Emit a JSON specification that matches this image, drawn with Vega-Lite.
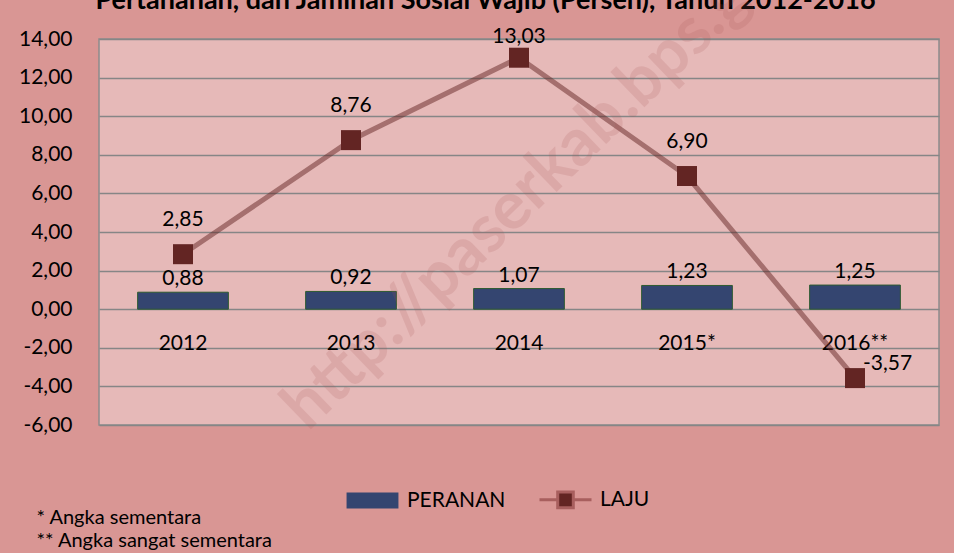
{
  "$schema": "https://vega.github.io/schema/vega-lite/v6.json",
  "width": 840,
  "height": 386,
  "autosize": {"type": "none"},
  "padding": {"left": 99, "top": 39, "right": 15, "bottom": 128},
  "background": "#D99694",
  "config": {
    "locale": {"number": {"decimal": ",", "thousands": ".", "grouping": [3], "currency": ["Rp", ""], "minus": "-"}},
    "view": {"fill": "#E6B9B8", "stroke": "#8C8C8C", "strokeWidth": 1.5},
    "font": "Lato",
    "axisY": {
      "grid": true,
      "gridColor": "#868686",
      "gridWidth": 1.5,
      "domain": false,
      "ticks": false,
      "tickSize": 0,
      "labelOverlap": false,
      "labelFontSize": 21,
      "labelColor": "#000000",
      "labelPadding": 27,
      "titleFontSize": 27,
      "titleFontWeight": "bold",
      "titleColor": "#000000",
      "titleAngle": 0,
      "titleX": 386,
      "titleY": -31,
      "titleAlign": "center",
      "titleBaseline": "alphabetic"
    }
  },
  "data": {
    "values": [
      {"tahun": "2012", "peranan": 0.88, "laju": 2.85},
      {"tahun": "2013", "peranan": 0.92, "laju": 8.76},
      {"tahun": "2014", "peranan": 1.07, "laju": 13.03},
      {"tahun": "2015*", "peranan": 1.23, "laju": 6.90},
      {"tahun": "2016**", "peranan": 1.25, "laju": -3.57}
    ]
  },
  "encoding": {
    "x": {
      "field": "tahun",
      "type": "nominal",
      "sort": null,
      "scale": {"paddingInner": 0.46, "paddingOuter": 0.23},
      "axis": {
        "orient": "bottom",
        "offset": -116,
        "domain": false,
        "ticks": false,
        "tickSize": 0,
        "labelAngle": 0,
        "labelFontSize": 21,
        "labelColor": "#000000",
        "labelPadding": 23,
        "title": ["* Angka sementara", "** Angka sangat sementara"],
        "titleX": -63,
        "titleY": 198,
        "titleAlign": "left",
        "titleAnchor": "start",
        "titleBaseline": "top",
        "titleFontSize": 20,
        "titleFontWeight": "normal",
        "titleLineHeight": 23,
        "titleColor": "#000000"
      }
    }
  },
  "layer": [
    {
      "mark": {"type": "bar", "color": "#344570", "stroke": "#2E5B30", "strokeWidth": 1},
      "encoding": {
        "y": {
          "field": "peranan",
          "type": "quantitative",
          "scale": {"domain": [-6, 14], "nice": false, "zero": false},
          "axis": {"values": [-6, -4, -2, 0, 2, 4, 6, 8, 10, 12, 14], "format": ".2f", "title": "Pertahanan, dan Jaminan Sosial Wajib (Persen), Tahun 2012-2016"}
        }
      }
    },
    {
      "mark": {"type": "text", "fontSize": 21, "color": "#000000", "baseline": "alphabetic", "dy": -7},
      "encoding": {
        "y": {"field": "peranan", "type": "quantitative", "axis": {"values": [-6, -4, -2, 0, 2, 4, 6, 8, 10, 12, 14], "format": ".2f", "title": "Pertahanan, dan Jaminan Sosial Wajib (Persen), Tahun 2012-2016"}},
        "text": {"field": "peranan", "type": "quantitative", "format": ".2f"}
      }
    },
    {
      "mark": {"type": "line", "color": "#632523", "opacity": 0.5, "strokeWidth": 5},
      "encoding": {"y": {"field": "laju", "type": "quantitative", "axis": {"values": [-6, -4, -2, 0, 2, 4, 6, 8, 10, 12, 14], "format": ".2f", "title": "Pertahanan, dan Jaminan Sosial Wajib (Persen), Tahun 2012-2016"}}}
    },
    {
      "mark": {"type": "point", "shape": "square", "size": 400, "filled": true, "color": "#632523", "opacity": 1},
      "encoding": {"y": {"field": "laju", "type": "quantitative", "axis": {"values": [-6, -4, -2, 0, 2, 4, 6, 8, 10, 12, 14], "format": ".2f", "title": "Pertahanan, dan Jaminan Sosial Wajib (Persen), Tahun 2012-2016"}}}
    },
    {
      "transform": [{"filter": "indexof(['2012','2013','2015*'], datum.tahun) >= 0"}],
      "mark": {"type": "text", "fontSize": 21, "color": "#000000", "baseline": "alphabetic", "dy": -28},
      "encoding": {
        "y": {"field": "laju", "type": "quantitative", "axis": {"values": [-6, -4, -2, 0, 2, 4, 6, 8, 10, 12, 14], "format": ".2f", "title": "Pertahanan, dan Jaminan Sosial Wajib (Persen), Tahun 2012-2016"}},
        "text": {"field": "laju", "type": "quantitative", "format": ".2f"}
      }
    },
    {
      "transform": [{"filter": "datum.tahun === '2014'"}],
      "mark": {"type": "text", "fontSize": 21, "color": "#000000", "baseline": "alphabetic", "dy": -15},
      "encoding": {
        "y": {"field": "laju", "type": "quantitative", "axis": {"values": [-6, -4, -2, 0, 2, 4, 6, 8, 10, 12, 14], "format": ".2f", "title": "Pertahanan, dan Jaminan Sosial Wajib (Persen), Tahun 2012-2016"}},
        "text": {"field": "laju", "type": "quantitative", "format": ".2f"}
      }
    },
    {
      "transform": [{"filter": "datum.tahun === '2016**'"}],
      "mark": {"type": "text", "fontSize": 21, "color": "#000000", "baseline": "alphabetic", "align": "left", "dx": 8, "dy": -8},
      "encoding": {
        "y": {"field": "laju", "type": "quantitative", "axis": {"values": [-6, -4, -2, 0, 2, 4, 6, 8, 10, 12, 14], "format": ".2f", "title": "Pertahanan, dan Jaminan Sosial Wajib (Persen), Tahun 2012-2016"}},
        "text": {"field": "laju", "type": "quantitative", "format": ".2f"}
      }
    },
    {
      "data": {"values": [{"seri": "PERANAN"}, {"seri": "LAJU"}]},
      "mark": {"type": "point", "filled": true, "opacity": 0, "size": 2704},
      "encoding": {
        "x": {"datum": "2014"},
        "y": {"datum": 0, "axis": {"values": [-6, -4, -2, 0, 2, 4, 6, 8, 10, 12, 14], "format": ".2f", "title": "Pertahanan, dan Jaminan Sosial Wajib (Persen), Tahun 2012-2016"}},
        "color": {
          "field": "seri",
          "type": "nominal",
          "scale": {"domain": ["PERANAN", "LAJU"], "range": ["#344570", "#632523"]},
          "legend": {
            "title": null, "orient": "none", "legendX": 246, "legendY": 433, "direction": "horizontal", "padding": 0,
            "symbolSize": 2704, "symbolOpacity": 1, "symbolStrokeWidth": 3, "labelFontSize": 21, "labelColor": "#000000", "labelOffset": 7, "columnPadding": 27
          }
        },
        "shape": {
          "field": "seri",
          "type": "nominal",
          "scale": {"domain": ["PERANAN", "LAJU"], "range": ["M-0.94,-0.25H0.94V0.25H-0.94Z", "M-1,0H-0.33M0.33,0H1M-0.3,-0.3H0.3V0.3H-0.3Z"]},
          "legend": {
            "title": null, "orient": "none", "legendX": 246, "legendY": 433, "direction": "horizontal", "padding": 0,
            "symbolSize": 2704, "symbolOpacity": 1, "symbolStrokeWidth": 3, "labelFontSize": 21, "labelColor": "#000000", "labelOffset": 7, "columnPadding": 27
          }
        },
        "stroke": {
          "field": "seri",
          "type": "nominal",
          "scale": {"domain": ["PERANAN", "LAJU"], "range": ["#344570", "#A85F5E"]},
          "legend": {
            "title": null, "orient": "none", "legendX": 246, "legendY": 433, "direction": "horizontal", "padding": 0,
            "symbolSize": 2704, "symbolOpacity": 1, "symbolStrokeWidth": 3, "labelFontSize": 21, "labelColor": "#000000", "labelOffset": 7, "columnPadding": 27
          }
        }
      }
    },
    {
      "data": {"values": [{"watermark": "http://paserkab.bps.go.id"}]},
      "mark": {"type": "text", "font": "Lato", "fontSize": 66, "fontWeight": "bold", "angle": -44, "align": "left", "baseline": "alphabetic", "dx": -80, "dy": 21, "color": "#A85555", "opacity": 0.16},
      "encoding": {
        "x": {"datum": "2013"},
        "y": {"datum": -2.7, "axis": {"values": [-6, -4, -2, 0, 2, 4, 6, 8, 10, 12, 14], "format": ".2f", "title": "Pertahanan, dan Jaminan Sosial Wajib (Persen), Tahun 2012-2016"}},
        "text": {"field": "watermark"}
      }
    }
  ]
}
